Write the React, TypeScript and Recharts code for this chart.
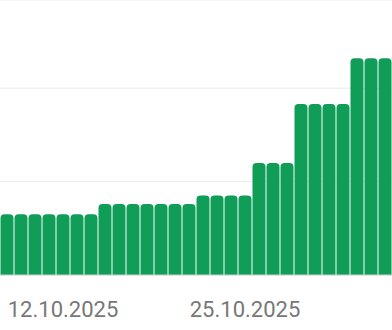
import React from 'react';
import { BarChart, Bar, XAxis, YAxis, CartesianGrid } from 'recharts';

const dates: string[] = [
  '08.10.2025', '09.10.2025', '10.10.2025', '11.10.2025', '12.10.2025', '13.10.2025', '14.10.2025',
  '15.10.2025', '16.10.2025', '17.10.2025', '18.10.2025', '19.10.2025', '20.10.2025', '21.10.2025',
  '22.10.2025', '23.10.2025', '24.10.2025', '25.10.2025', '26.10.2025', '27.10.2025', '28.10.2025',
  '29.10.2025', '30.10.2025', '31.10.2025', '01.11.2025', '02.11.2025', '03.11.2025', '04.11.2025',
];
const values: number[] = [
  65, 65, 65, 65, 65, 65, 65,
  76, 76, 76, 76, 76, 76, 76,
  85, 85, 85, 85,
  120, 120, 120,
  183, 183, 183, 183,
  232, 232, 232,
];
const xTicks: string[] = ['12.10.2025', '25.10.2025'];
const yTicks: number[] = [0, 100, 200];

const data = dates.map((d, i) => ({ date: d, value: values[i] }));

export default function App() {
  return (
    <div style={{ position: 'absolute', left: 0, top: 0, width: 392, height: 330, background: '#fff' }}>
      <BarChart width={392} height={330} data={data} margin={{ top: 0, right: 0, bottom: 0, left: 0 }} barCategoryGap={0.5}>
        <CartesianGrid vertical={false} stroke="#ebebeb" strokeWidth={1} />
        <YAxis hide domain={[0, 294.4]} ticks={yTicks} width={0} />
        <XAxis
          dataKey="date"
          ticks={xTicks}
          interval={0}
          height={55}
          tickLine={false}
          axisLine={{ stroke: '#d0d0d0' }}
          tickMargin={20}
          tick={{ fill: '#777777', fontSize: 22, fontFamily: 'Roboto' }}
        />
        <Bar dataKey="value" fill="#0f9d58" radius={[4, 4, 0, 0]} isAnimationActive={false} />
      </BarChart>
    </div>
  );
}
